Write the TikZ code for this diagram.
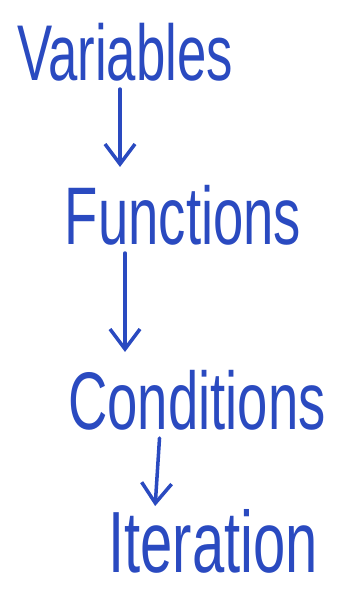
\documentclass[tikz,border=0pt]{standalone}
\usepackage{fontspec}
\setmainfont{Liberation Sans}
\usetikzlibrary{arrows.meta}
\definecolor{ink}{RGB}{42,74,192}
\begin{document}
\begin{tikzpicture}[hand/.style={text=ink,inner sep=0pt,yscale=1.5,font=\fontsize{30}{36}\selectfont},
  arr/.style={ink,line width=2pt,line cap=round,-{Straight Barb[length=0.4cm,width=0.6cm,line width=2pt]},shorten <=0.15cm,shorten >=0.35cm}]
\useasboundingbox (0,0) rectangle (7,11.92);
% Steps, top to bottom
\node[hand] (var) at (2.5,10.88) {Variables};
\node[hand,font=\fontsize{31}{37}\selectfont] (fun) at (3.66,7.62) {Functions};
\node[hand,font=\fontsize{31}{37}\selectfont] (cond) at (3.94,3.92) {Conditions};
\node[hand,font=\fontsize{33}{39}\selectfont] (iter) at (4.26,1.1) {Iteration};
% Arrows
\draw[arr] ([xshift=-0.1cm]var.south) -- ([xshift=-0.1cm]var.south |- fun.north);
\draw[arr] ([xshift=-1.16cm]fun.south) -- ([xshift=-1.16cm]fun.south |- cond.north);
\draw[arr,shorten >=0.05cm] ([xshift=-0.74cm]cond.south) -- ([xshift=-1.16cm]iter.north);
\end{tikzpicture}
\end{document}
